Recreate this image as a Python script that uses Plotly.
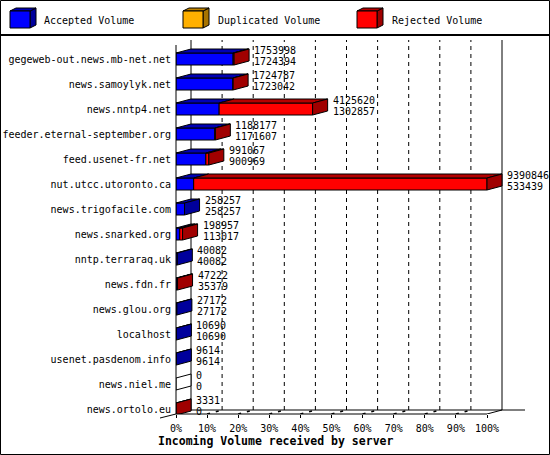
import plotly.graph_objects as go

# --- data ---
hosts = [
    "gegeweb-out.news.mb-net.net", "news.samoylyk.net", "news.nntp4.net",
    "feeder.eternal-september.org", "feed.usenet-fr.net", "nut.utcc.utoronto.ca",
    "news.trigofacile.com", "news.snarked.org", "nntp.terraraq.uk", "news.fdn.fr",
    "news.glou.org", "localhost", "usenet.pasdenom.info", "news.niel.me",
    "news.ortolo.eu",
]
total_volume = [1753998, 1724787, 4125620, 1188177, 991067, 9390846, 258257,
                198957, 40082, 47222, 27172, 10690, 9614, 0, 3331]
accepted_volume = [1724394, 1723042, 1302857, 1171607, 900969, 533439, 258257,
                   113017, 40082, 35379, 27172, 10690, 9614, 0, 0]
duplicated_volume = [0, 0, 0, 0, 0, 0, 0, 0, 0, 0, 0, 0, 0, 0, 0]
x_ticks = [0, 10, 20, 30, 40, 50, 60, 70, 80, 90, 100]
x_tick_labels = ["0%", "10%", "20%", "30%", "40%", "50%", "60%", "70%",
                 "80%", "90%", "100%"]
legend_names = ["Accepted Volume", "Duplicated Volume", "Rejected Volume"]

# --- geometry (pixels of the 550x455 picture) ---
W, H = 550, 455
PL, PT, PB = 176, 40, 414          # plot area left / top / bottom
PX_PCT = 3.11                      # pixels per 1 %
PX_ROW = 25                        # pixels per host row
ROW0 = 59                          # centre of first row
DX = 15 / PX_PCT                   # 3d depth, in % units
DY = 4 / PX_ROW                    # 3d depth, in row units
HALF = 6 / PX_ROW                  # half bar height

FONT = "DejaVu Sans Mono"
colors = {
    "acc": ("#0000ff", "#0000b4", "#00009c"),
    "dup": ("#ffb000", "#c08400", "#a87400"),
    "rej": ("#ff0000", "#b40000", "#a00000"),
    "none": ("#ffffff", "#ffffff", "#ffffff"),
}


def xp(px):
    return (px - PL) / (W - PL)


def yp(py):
    return (PB - py) / (PB - PT)


def row_y(py):
    return (py - ROW0) / PX_ROW


vmax = max(total_volume)
rejected_volume = [t - a - d for t, a, d in
                   zip(total_volume, accepted_volume, duplicated_volume)]

polys = {}


def add(key, pts):
    xs, ys = polys.setdefault(key, ([], []))
    for x, y in pts + [pts[0]]:
        xs.append(x)
        ys.append(y)
    xs.append(None)
    ys.append(None)


annotations = []
for i, host in enumerate(hosts):
    top, bot = i - HALF, i + HALF
    x = 0.0
    last = "none"
    for seg, val in zip(["acc", "dup", "rej"],
                        [accepted_volume[i], duplicated_volume[i], rejected_volume[i]]):
        if val <= 0:
            continue
        w = val / vmax * 100
        add(("front", seg), [(x, bot), (x + w, bot), (x + w, top), (x, top)])
        add(("top", seg), [(x, top), (x + w, top), (x + w + DX, top - DY), (x + DX, top - DY)])
        x += w
        last = seg
    add(("side", last), [(x, bot), (x, top), (x + DX, top - DY), (x + DX, bot - DY)])
    for val, off in [(total_volume[i], -9), (accepted_volume[i], 2.7)]:
        annotations.append(dict(
            x=x + DX, y=i + off / PX_ROW, xref="x", yref="y", text=str(val),
            showarrow=False, xanchor="left", yanchor="middle", xshift=3,
            font=dict(family=FONT, size=10, color="black")))

fig = go.Figure()
for face, idx in [("front", 0), ("top", 1), ("side", 2)]:
    for seg in ["acc", "dup", "rej", "none"]:
        if (face, seg) not in polys:
            continue
        xs, ys = polys[(face, seg)]
        fig.add_trace(go.Scatter(
            x=xs, y=ys, mode="lines", fill="toself", fillcolor=colors[seg][idx],
            line=dict(color="black", width=1), hoverinfo="skip", showlegend=False))

shapes = []
wall_top = row_y(40)
floor_back = row_y(410)
floor_front = row_y(414)
black = dict(color="black", width=1)
for k in x_ticks[1:-1]:
    shapes.append(dict(type="line", xref="x", yref="y", x0=k + DX, x1=k + DX,
                       y0=floor_back, y1=wall_top, layer="below",
                       line=dict(color="black", width=1, dash="4px,4px")))
    shapes.append(dict(type="line", xref="x", yref="y", x0=k, x1=k + DX,
                       y0=floor_front, y1=floor_back, layer="below",
                       line=dict(color="black", width=1.5, dash="3px,6px")))
for xv in [DX, 100 + DX]:
    shapes.append(dict(type="line", xref="x", yref="y", x0=xv, x1=xv,
                       y0=floor_back, y1=wall_top, layer="below", line=black))
# floors and front axis
shapes.append(dict(type="line", xref="x", yref="y", x0=DX, x1=(525 - PL) / PX_PCT,
                   y0=floor_back, y1=floor_back, layer="below", line=black))
shapes.append(dict(type="line", xref="x", yref="paper", x0=0, x1=100,
                   y0=0, y1=0, line=black))
shapes.append(dict(type="line", xref="x", yref="y", x0=100, x1=100 + DX,
                   y0=floor_front, y1=floor_back, line=black))
shapes.append(dict(type="line", xref="paper", yref="y", x0=0, x1=0,
                   y0=row_y(45), y1=floor_front, line=black))
shapes.append(dict(type="line", xref="paper", yref="paper", x0=xp(160), x1=0,
                   y0=yp(418), y1=0, line=black))

# frame and legend box
shapes.append(dict(type="rect", xref="paper", yref="paper", x0=xp(0.5), x1=xp(549.5),
                   y0=yp(454.5), y1=yp(0.5), line=black))
shapes.append(dict(type="line", xref="paper", yref="paper", x0=xp(0), x1=xp(550),
                   y0=yp(35), y1=yp(35), line=dict(color="black", width=2)))

for name, seg, cx, tx in zip(legend_names, ["acc", "dup", "rej"], [10, 183, 357], [42, 216, 390]):
    fx0, fx1, fy0, fy1 = cx, cx + 20, 11, 28
    d, e = 6, 3
    faces = [
        ([(fx1, fy1), (fx1, fy0), (fx1 + d, fy0 - e), (fx1 + d, fy1 - e)], colors[seg][2]),
        ([(fx0, fy0), (fx1, fy0), (fx1 + d, fy0 - e), (fx0 + d, fy0 - e)], colors[seg][1]),
        ([(fx0, fy0), (fx1, fy0), (fx1, fy1), (fx0, fy1)], colors[seg][0]),
    ]
    for pts, col in faces:
        path = "M " + " L ".join(f"{xp(px)},{yp(py)}" for px, py in pts) + " Z"
        shapes.append(dict(type="path", xref="paper", yref="paper", path=path,
                           fillcolor=col, line=black))
    annotations.append(dict(x=xp(tx), y=yp(20), xref="paper", yref="paper", text=name,
                            showarrow=False, xanchor="left", yanchor="middle",
                            font=dict(family=FONT, size=10, color="black")))

annotations.append(dict(x=xp(156), y=yp(441), xref="paper", yref="paper",
                        text="<b>Incoming Volume received by server</b>",
                        showarrow=False, xanchor="left", yanchor="middle",
                        font=dict(family=FONT, size=11.5, color="black")))

fig.update_layout(
    width=W, height=H,
    margin=dict(l=PL, r=0, t=PT, b=H - PB, pad=0),
    paper_bgcolor="white", plot_bgcolor="white",
    showlegend=False,
    shapes=shapes, annotations=annotations,
    font=dict(family=FONT, size=10, color="black"),
    xaxis=dict(range=[0, (W - PL) / PX_PCT], tickvals=x_ticks, ticktext=x_tick_labels,
               ticks="outside", ticklen=3, tickcolor="black", showgrid=False,
               zeroline=False, showline=False, fixedrange=True, ticklabelstandoff=2),
    yaxis=dict(range=[row_y(PB), row_y(PT)], tickvals=list(range(len(hosts))),
               ticktext=hosts, ticks="", showgrid=False, zeroline=False,
               showline=False, ticklabelstandoff=4, fixedrange=True),
)

fig.write_html(
    "out.html",
    config={"displayModeBar": False},
    post_script="document.body.style.margin='0px';document.body.style.overflow='hidden';",
)
